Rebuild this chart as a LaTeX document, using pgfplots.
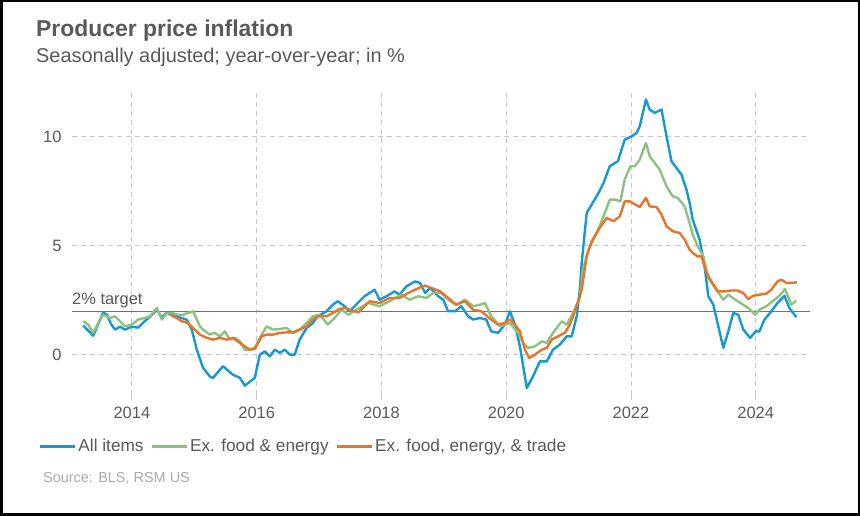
\documentclass[border=0pt]{standalone}
\usepackage{pgfplots}
\pgfplotsset{compat=1.18}
\usepackage{fontspec}
\setmainfont{Liberation Sans}
\definecolor{cblue}{RGB}{22,152,214}
\definecolor{cgreen}{RGB}{140,194,128}
\definecolor{corange}{RGB}{232,116,40}
\definecolor{txt}{RGB}{89,89,89}
\definecolor{gridc}{RGB}{200,200,200}
\definecolor{srcc}{RGB}{170,170,170}
\begin{document}
\begin{tikzpicture}[x=1bp,y=1bp]
\useasboundingbox (0,0) rectangle (860,516);
\draw[line width=2.5bp] (1.25,1.25) rectangle (858.75,514.75);
\node[anchor=base west,inner sep=0,text=txt,font=\fontsize{23}{27}\selectfont\bfseries] at (36,479) {Producer price inflation};
\node[anchor=base west,inner sep=0,text=txt,font=\fontsize{20}{24}\selectfont] at (36,453) {Seasonally adjusted; year-over-year; in \%};
\node[anchor=base west,inner sep=0,text=srcc,font=\fontsize{14.5}{17}\selectfont] at (43,33) {Source: BLS, RSM US};
\begin{axis}[
  at={(72bp,121bp)}, anchor=south west,
  width=738bp, height=302bp, scale only axis,
  xmin=2013.04, xmax=2024.87, ymin=-1.85, ymax=12,
  axis line style={draw=none},
  xtick={2014,2016,2018,2020,2022,2024},
  ytick={0,5,10},
  xticklabel style={/pgf/number format/1000 sep={}},
  /pgf/number format/assume math mode=true,
  ticklabel style={text=txt,font=\fontsize{16.5}{20}\selectfont},
  xtick pos=bottom, ytick style={draw=none},
  x tick style={draw=gridc,line width=0.8bp},
  tick align=outside, major tick length=5bp,
  xticklabel shift=4bp, yticklabel shift=2bp,
  grid=major, major grid style={gridc,dashed,line width=0.8bp,dash pattern=on 5bp off 4bp},
  legend columns=3,
  legend style={at={(-0.045,-0.17)},anchor=west,draw=none,fill=none,
    font=\fontsize{17.3}{20}\selectfont,text=txt,
    /tikz/every even column/.append style={column sep=5bp},
    inner xsep=0pt},
  legend image code/.code={\draw[#1,line width=2.5bp] (0bp,0bp) -- (35bp,0bp);},
  every axis plot/.append style={line width=2.4bp,line join=round},
  clip=false
]
\addplot[gray!90!black,line width=1bp,forget plot] coordinates {(2013.04,2) (2024.87,2)};
\node[anchor=base west,inner sep=0,text=txt,font=\fontsize{16.5}{20}\selectfont] at (axis cs:2013.04,2.32) {2\% target};
\addplot[cblue] coordinates {
(2013.22,1.33) (2013.38,0.87) (2013.54,1.93) (2013.6,1.83) (2013.67,1.38) (2013.73,1.15) (2013.81,1.28) (2013.89,1.15) (2014.0,1.28) (2014.1,1.24) (2014.18,1.47) (2014.29,1.74) (2014.4,2.06) (2014.48,1.70) (2014.56,1.93) (2014.64,1.83) (2014.74,1.74) (2014.88,1.6) (2014.96,1.15) (2015.04,0.23) (2015.14,-0.6) (2015.25,-1.0) (2015.30,-1.07) (2015.46,-0.53) (2015.62,-0.92) (2015.73,-1.06) (2015.81,-1.42) (2015.97,-1.06) (2016.05,0) (2016.13,0.15) (2016.21,-0.08) (2016.29,0.23) (2016.37,0.08) (2016.45,0.23) (2016.53,0) (2016.61,0) (2016.69,0.69) (2016.8,1.22) (2016.9,1.45) (2016.98,1.76) (2017.12,1.99) (2017.22,2.29) (2017.3,2.45) (2017.41,2.22) (2017.49,1.99) (2017.62,2.37) (2017.73,2.68) (2017.89,2.98) (2017.97,2.52) (2018.08,2.68) (2018.21,2.9) (2018.29,2.75) (2018.4,3.13) (2018.54,3.36) (2018.62,3.29) (2018.7,2.83) (2018.78,3.06) (2018.91,2.68) (2018.99,2.52) (2019.07,1.99) (2019.18,1.99) (2019.28,2.22) (2019.39,1.76) (2019.47,1.61) (2019.58,1.68) (2019.68,1.61) (2019.76,1.07) (2019.87,1.0) (2019.98,1.38) (2020.06,1.99) (2020.14,1.38) (2020.22,0.38) (2020.33,-1.53) (2020.43,-0.99) (2020.54,-0.31) (2020.65,-0.31) (2020.75,0.23) (2020.86,0.46) (2020.97,0.84) (2021.05,0.84) (2021.13,1.76) (2021.18,2.98) (2021.21,4.2) (2021.29,6.5) (2021.37,6.88) (2021.48,7.42) (2021.56,7.87) (2021.66,8.64) (2021.79,8.87) (2021.9,9.86) (2022.01,10.01) (2022.09,10.17) (2022.14,10.47) (2022.24,11.7) (2022.3,11.24) (2022.38,11.09) (2022.49,11.24) (2022.57,10.01) (2022.65,8.87) (2022.73,8.56) (2022.81,8.26) (2022.89,7.57) (2022.94,6.96) (2022.99,6.19) (2023.1,5.28) (2023.18,4.05) (2023.24,2.68) (2023.32,2.29) (2023.48,0.31) (2023.56,1.07) (2023.64,1.91) (2023.72,1.83) (2023.8,1.15) (2023.91,0.77) (2024.0,1.07) (2024.06,1.07) (2024.14,1.61) (2024.25,1.99) (2024.35,2.37) (2024.46,2.7) (2024.54,2.14) (2024.65,1.72)
};
\addlegendentry{All items}
\addplot[cgreen] coordinates {
(2013.22,1.53) (2013.3,1.38) (2013.38,1.0) (2013.46,1.45) (2013.54,1.83) (2013.65,1.68) (2013.73,1.76) (2013.81,1.53) (2013.89,1.3) (2014.0,1.38) (2014.1,1.61) (2014.21,1.68) (2014.29,1.76) (2014.4,2.14) (2014.48,1.61) (2014.56,1.91) (2014.64,1.91) (2014.74,1.83) (2014.82,1.83) (2014.9,1.91) (2014.98,1.99) (2015.09,1.3) (2015.14,1.15) (2015.25,0.92) (2015.33,1.0) (2015.41,0.84) (2015.49,1.07) (2015.57,0.69) (2015.65,0.77) (2015.73,0.61) (2015.81,0.23) (2015.89,0.23) (2015.97,0.31) (2016.05,0.77) (2016.16,1.3) (2016.26,1.15) (2016.37,1.18) (2016.48,1.22) (2016.58,1.0) (2016.69,1.15) (2016.8,1.45) (2016.9,1.76) (2017.01,1.83) (2017.14,1.38) (2017.25,1.68) (2017.36,2.06) (2017.47,1.83) (2017.6,2.06) (2017.79,2.37) (2017.97,2.22) (2018.13,2.45) (2018.32,2.75) (2018.45,2.52) (2018.59,2.68) (2018.72,2.6) (2018.83,2.83) (2018.96,2.83) (2019.1,2.45) (2019.2,2.29) (2019.34,2.52) (2019.47,2.22) (2019.58,2.29) (2019.66,2.37) (2019.76,1.76) (2019.9,1.3) (2020.06,1.45) (2020.19,1.0) (2020.27,0.54) (2020.35,0.31) (2020.46,0.38) (2020.57,0.61) (2020.65,0.54) (2020.75,1.0) (2020.89,1.53) (2020.97,1.38) (2021.07,1.91) (2021.18,2.6) (2021.23,3.9) (2021.32,4.82) (2021.45,5.58) (2021.56,6.34) (2021.66,7.11) (2021.75,7.11) (2021.83,7.03) (2021.9,8.03) (2021.99,8.64) (2022.06,8.64) (2022.14,8.94) (2022.24,9.71) (2022.3,9.1) (2022.38,8.79) (2022.46,8.49) (2022.57,7.72) (2022.67,7.26) (2022.75,7.19) (2022.86,6.8) (2022.94,6.04) (2022.99,5.5) (2023.07,4.97) (2023.16,4.51) (2023.24,3.52) (2023.35,3.06) (2023.48,2.52) (2023.56,2.75) (2023.67,2.52) (2023.8,2.29) (2023.88,2.14) (2023.99,1.83) (2024.06,2.06) (2024.17,2.22) (2024.27,2.45) (2024.38,2.7) (2024.47,3.01) (2024.57,2.29) (2024.65,2.48)
};
\addlegendentry{Ex. food \& energy}
\addplot[corange] coordinates {
(2014.61,1.83) (2014.72,1.68) (2014.8,1.53) (2014.9,1.45) (2014.98,1.22) (2015.09,0.92) (2015.2,0.77) (2015.3,0.69) (2015.41,0.77) (2015.52,0.69) (2015.62,0.77) (2015.73,0.54) (2015.81,0.38) (2015.89,0.23) (2015.97,0.26) (2016.08,0.84) (2016.16,0.92) (2016.26,0.92) (2016.37,1.0) (2016.48,1.02) (2016.58,1.02) (2016.69,1.15) (2016.8,1.3) (2016.9,1.61) (2016.98,1.76) (2017.12,1.76) (2017.22,1.91) (2017.33,2.1) (2017.44,2.14) (2017.49,2.06) (2017.63,1.94) (2017.81,2.45) (2017.97,2.37) (2018.13,2.6) (2018.29,2.6) (2018.43,2.83) (2018.54,2.98) (2018.7,3.17) (2018.8,3.06) (2018.94,2.9) (2019.07,2.6) (2019.2,2.29) (2019.34,2.45) (2019.47,2.06) (2019.6,1.99) (2019.74,1.65) (2019.87,1.38) (2019.98,1.45) (2020.06,1.61) (2020.14,1.38) (2020.22,1.07) (2020.3,0.23) (2020.37,-0.15) (2020.46,0.0) (2020.57,0.23) (2020.65,0.31) (2020.73,0.69) (2020.83,0.84) (2020.94,1.0) (2021.02,1.38) (2021.1,1.99) (2021.18,2.68) (2021.21,2.98) (2021.29,4.51) (2021.37,5.2) (2021.48,5.73) (2021.61,6.27) (2021.72,6.12) (2021.82,6.34) (2021.9,7.03) (2021.98,7.03) (2022.14,6.77) (2022.24,7.19) (2022.3,6.8) (2022.41,6.77) (2022.49,6.42) (2022.57,5.89) (2022.67,5.66) (2022.78,5.58) (2022.86,5.28) (2022.94,4.82) (2022.99,4.66) (2023.07,4.51) (2023.13,4.51) (2023.21,3.75) (2023.29,3.36) (2023.39,2.9) (2023.5,2.9) (2023.6,2.94) (2023.71,2.94) (2023.8,2.83) (2023.88,2.55) (2023.96,2.7) (2024.06,2.75) (2024.17,2.8) (2024.25,2.98) (2024.35,3.36) (2024.41,3.44) (2024.49,3.29) (2024.57,3.29) (2024.66,3.32)
};
\addlegendentry{Ex. food, energy, \& trade}
\end{axis}
\end{tikzpicture}
\end{document}
